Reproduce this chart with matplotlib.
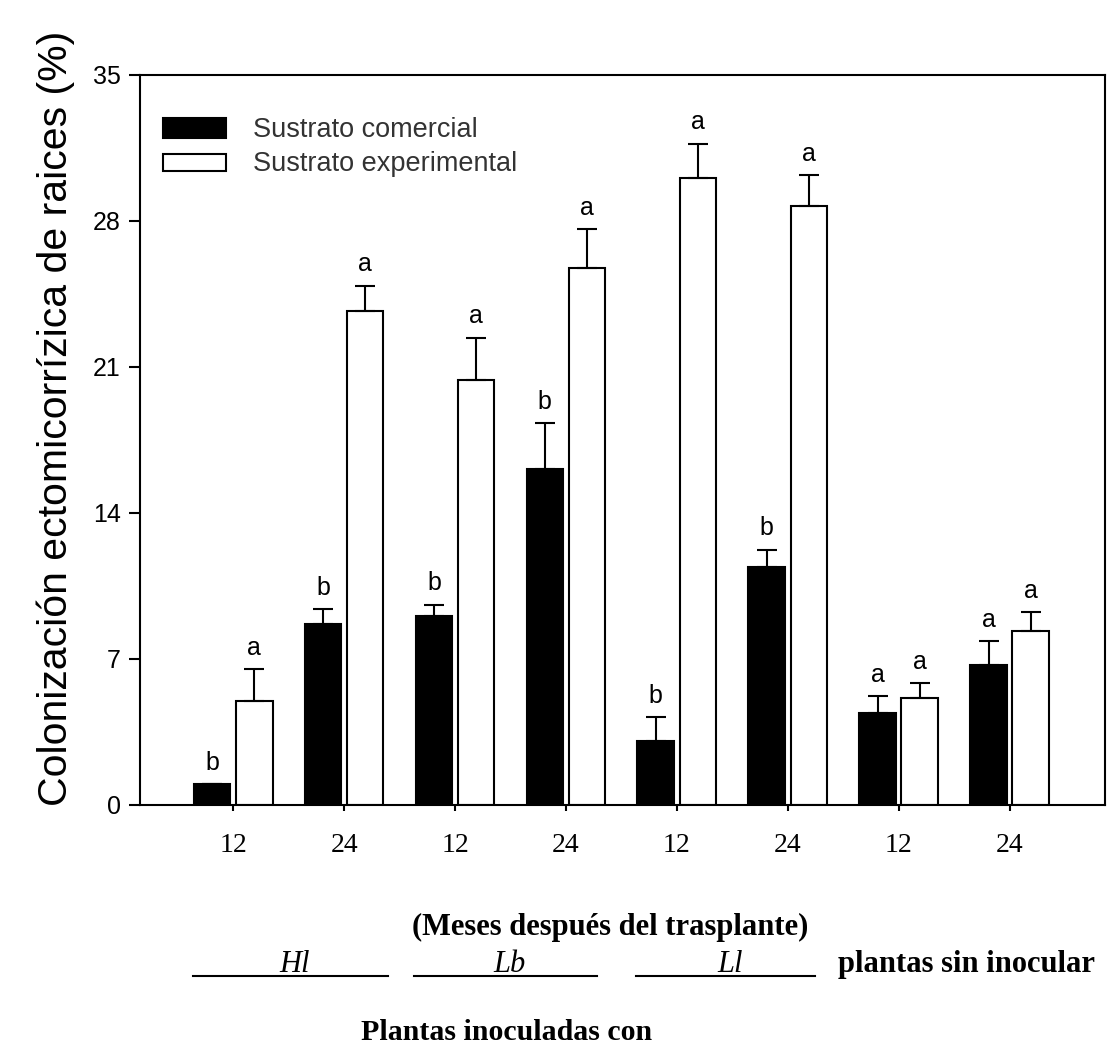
import matplotlib
matplotlib.use("Agg")
import matplotlib.pyplot as plt
from matplotlib.lines import Line2D
from matplotlib.patches import Rectangle
import numpy as np

# months after transplant, per inoculum group
tick_labels = ["12", "24", "12", "24", "12", "24", "12", "24"]
groups = ["Hl", "Lb", "Ll"]

comercial = [1.0, 8.7, 9.05, 16.1, 3.05, 11.4, 4.4, 6.7]
comercial_err = [0.0, 0.7, 0.55, 2.2, 1.15, 0.85, 0.82, 1.15]
experimental = [5.0, 23.7, 20.4, 25.75, 30.06, 28.7, 5.13, 8.35]
experimental_err = [1.5, 1.2, 2.0, 1.85, 1.65, 1.5, 0.7, 0.9]

letters_com = ["b", "b", "b", "b", "b", "b", "a", "a"]
letters_exp = ["a", "a", "a", "a", "a", "a", "a", "a"]

W, H = 1116, 1048
fig = plt.figure(figsize=(W / 100, H / 100), dpi=100)
ax = fig.add_axes([140 / W, 1 - 805 / H, (1105 - 140) / W, (805 - 75) / H])

sans = "Liberation Sans"
serif = "Liberation Serif"

x = np.arange(len(tick_labels))
bw = 0.33
off = 0.19
err_kw = dict(elinewidth=1.5, capsize=7, capthick=1.5, ecolor="black")

ax.bar(x - off, comercial, bw, color="black", edgecolor="black", linewidth=1.5,
       yerr=[np.zeros(len(x)), comercial_err], error_kw=err_kw)
ax.bar(x + off, experimental, bw, color="white", edgecolor="black", linewidth=1.5,
       yerr=[np.zeros(len(x)), experimental_err], error_kw=err_kw)

for i in range(len(x)):
    ax.text(x[i] - off, comercial[i] + comercial_err[i] + 0.45, letters_com[i],
            ha="center", va="bottom", fontsize=18, family=sans)
    ax.text(x[i] + off, experimental[i] + experimental_err[i] + 0.45, letters_exp[i],
            ha="center", va="bottom", fontsize=18, family=sans)

ax.set_xlim(-0.84, 7.86)
ax.set_ylim(0, 35)
ax.set_yticks(np.arange(0, 36, 7))
ax.set_xticks(x)
ax.set_xticklabels(tick_labels, family=serif, fontsize=20)
for lab in ax.get_yticklabels():
    lab.set_family(sans)
    lab.set_fontsize(18)
ax.tick_params(axis="y", direction="out", length=8, width=1.5, pad=6)
ax.tick_params(axis="x", direction="out", length=4, width=1.5, pad=16)
for s in ax.spines.values():
    s.set_linewidth(1.5)

ax.set_ylabel("Colonización ectomicorrízica de raices (%)", family=sans, fontsize=29.5, labelpad=10)
ax.yaxis.set_label_coords(-0.067, 0.53)

# legend drawn by hand (axes fraction)
ax.add_patch(Rectangle((0.024, 0.914), 0.065, 0.027, transform=ax.transAxes,
                       facecolor="black", edgecolor="black", lw=1.5, clip_on=False))
ax.add_patch(Rectangle((0.024, 0.868), 0.065, 0.024, transform=ax.transAxes,
                       facecolor="white", edgecolor="black", lw=1.5, clip_on=False))
ax.text(0.117, 0.925, "Sustrato comercial", transform=ax.transAxes, va="center",
        family=sans, fontsize=19.5, color="#333333")
ax.text(0.117, 0.878, "Sustrato experimental", transform=ax.transAxes, va="center",
        family=sans, fontsize=19.5, color="#333333")

# texts under the axis
fig.text(610 / W, 1 - 927 / H, "(Meses después del trasplante)", ha="center", va="center",
         family=serif, weight="bold", fontsize=22)
for name, x0, x1 in zip(groups, [193, 414, 636], [388, 597, 815]):
    fig.text((x0 + x1) / 2 / W + 0.004, 1 - 972 / H, name, ha="center", va="baseline",
             family=serif, style="italic", fontsize=22)
    fig.add_artist(Line2D([x0 / W, x1 / W], [1 - 976 / H, 1 - 976 / H], color="black", lw=1.5))
fig.text(838 / W, 1 - 972 / H, "plantas sin inocular", ha="left", va="baseline",
         family=serif, weight="bold", fontsize=22)
fig.text(507 / W, 1 - 1040 / H, "Plantas inoculadas con", ha="center", va="baseline",
         family=serif, weight="bold", fontsize=21.5)

fig.savefig("out.png", dpi=100)
